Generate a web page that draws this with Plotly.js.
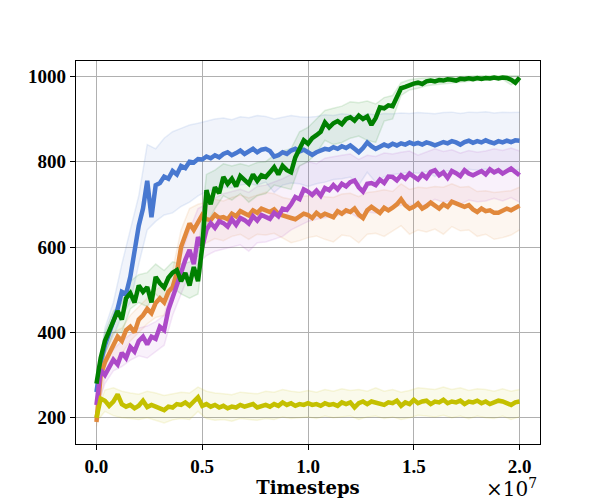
<!DOCTYPE html>
<html>
<head>
<meta charset="utf-8">
<script src="https://cdn.plot.ly/plotly-3.0.1.min.js"></script>
<style>html,body{margin:0;padding:0;background:#fff}#chart{width:600px;height:500px}</style>
</head>
<body>
<div id="chart"></div>
<script>
// Timesteps in units of 1e7
const LINE_X = [0.00,0.02,0.04,0.06,0.08,0.10,0.12,0.14,0.16,0.18,0.20,0.22,0.24,0.26,0.28,0.30,0.32,0.34,0.36,0.38,0.40,0.42,0.44,0.46,0.48,0.50,0.52,0.54,0.56,0.58,0.60,0.62,0.64,0.66,0.68,0.70,0.72,0.74,0.76,0.78,0.80,0.82,0.84,0.86,0.88,0.90,0.92,0.94,0.96,0.98,1.00,1.02,1.04,1.06,1.08,1.10,1.12,1.14,1.16,1.18,1.20,1.22,1.24,1.26,1.28,1.30,1.32,1.34,1.36,1.38,1.40,1.42,1.44,1.46,1.48,1.50,1.52,1.54,1.56,1.58,1.60,1.62,1.64,1.66,1.68,1.70,1.72,1.74,1.76,1.78,1.80,1.82,1.84,1.86,1.88,1.90,1.92,1.94,1.96,1.98,2.00];
const BAND_X = [0.00,0.04,0.08,0.12,0.16,0.20,0.24,0.28,0.32,0.36,0.40,0.44,0.48,0.52,0.56,0.60,0.64,0.68,0.72,0.76,0.80,0.84,0.88,0.92,0.96,1.00,1.04,1.08,1.12,1.16,1.20,1.24,1.28,1.32,1.36,1.40,1.44,1.48,1.52,1.56,1.60,1.64,1.68,1.72,1.76,1.80,1.84,1.88,1.92,1.96,2.00];

const blueMean = [260,330,370,400,425,455,495,490,530,590,650,690,755,670,745,750,765,760,778,770,790,785,800,798,806,805,812,808,815,810,818,822,815,820,826,818,825,830,822,828,830,825,812,815,822,818,826,830,824,828,822,816,822,826,830,828,834,830,836,832,838,830,822,832,845,836,830,835,840,836,842,838,843,840,845,841,844,840,845,842,838,842,846,843,848,845,840,846,849,844,848,845,850,846,843,848,845,849,846,850,849];
const blueUpper = [280,410,470,560,640,720,840,830,855,870,878,886,890,895,900,902,898,905,903,908,906,900,904,908,905,904,906,910,908,912,910,905,912,910,913,912,914,913,915,913,912,915,916,913,916,915,917,914,916,915,916];
const blueLower = [240,350,390,440,470,560,640,660,675,680,695,705,720,730,735,740,738,745,748,745,752,728,745,750,748,742,748,752,758,760,764,745,775,752,765,770,772,775,773,777,765,777,780,768,782,780,783,772,775,777,782];

const orangeMean = [190,300,330,350,370,390,380,405,413,400,430,440,455,445,469,480,470,495,506,540,600,630,655,640,660,675,665,663,676,668,670,665,678,672,684,680,674,686,680,690,687,682,688,678,674,670,668,665,672,678,675,668,680,672,678,675,670,684,678,686,682,690,676,668,686,694,688,680,692,686,692,700,712,698,690,694,702,690,696,704,697,690,700,694,706,703,698,694,698,688,682,690,684,686,680,680,684,690,686,692,697];
const orangeUpper = [200,350,400,410,440,460,480,500,510,545,640,690,700,705,712,708,716,722,715,722,728,725,716,712,718,720,722,718,716,724,726,718,728,730,734,730,748,735,740,738,742,740,748,740,742,730,732,728,730,732,740];
const orangeLower = [180,300,330,350,380,400,420,435,440,470,540,590,600,610,620,615,625,630,618,630,628,632,620,610,615,622,626,618,612,628,625,610,630,632,625,638,650,630,640,635,642,630,648,638,640,625,630,618,622,628,640];

const greenMean = [280,340,380,405,425,450,430,480,492,470,510,495,506,470,530,515,505,528,540,546,520,539,510,553,520,600,733,700,740,726,764,748,760,742,766,757,748,770,755,768,764,775,787,770,790,780,775,810,830,850,842,855,862,870,892,880,890,895,888,900,904,896,908,900,906,886,902,927,925,932,930,950,972,975,980,983,985,982,988,990,988,991,990,993,992,990,994,993,995,993,996,994,996,995,997,995,997,996,992,985,997];
const greenUpper = [300,400,450,470,520,535,540,560,545,565,560,565,580,770,780,795,790,795,790,798,800,815,825,830,870,880,900,920,925,930,940,938,942,935,950,955,985,992,995,997,998,998,999,1000,1000,1001,1001,1001,1001,1000,1001];
const greenLower = [260,350,400,400,455,470,460,490,470,505,490,480,490,650,690,720,710,725,705,720,725,745,740,735,790,800,820,850,840,845,855,860,850,845,895,900,955,968,972,978,980,982,985,987,989,990,991,992,993,980,993];

const purpleMean = [230,312,300,320,336,325,352,340,366,355,380,390,372,390,385,413,405,453,480,505,539,570,593,560,623,600,640,656,645,660,656,648,665,652,668,663,655,672,662,675,670,666,680,672,690,687,700,717,712,735,730,722,732,720,738,733,745,735,748,742,752,756,740,730,748,750,745,758,750,765,764,756,768,760,772,764,758,770,762,776,780,768,775,762,778,773,766,780,772,768,773,778,770,782,775,780,772,778,784,776,768];
const purpleUpper = [240,330,360,380,395,410,415,425,440,510,580,640,690,700,715,725,730,735,728,742,745,752,760,770,790,800,795,808,812,815,818,805,815,812,820,818,822,825,815,822,830,824,828,820,826,822,825,830,826,832,825];
const purpleLower = [220,280,310,320,335,345,340,355,370,440,490,540,560,580,590,595,600,605,590,610,612,618,625,640,650,660,665,668,672,676,680,668,682,680,685,695,698,700,694,700,712,705,710,700,710,706,708,714,708,716,705];

const yellowMean = [200,245,240,228,238,255,232,226,230,222,228,240,225,230,226,222,218,226,224,232,230,236,228,238,248,228,232,226,230,224,228,222,226,224,230,226,228,232,224,228,230,226,232,228,236,230,234,228,232,230,234,230,232,228,234,230,232,228,236,232,236,224,234,238,232,238,236,232,230,236,234,240,228,236,232,242,234,238,240,232,238,236,242,234,238,236,240,232,238,236,240,234,238,232,236,240,238,234,230,236,238];
const yellowUpper = [210,265,270,262,258,255,262,258,252,256,260,258,272,262,258,256,254,260,258,256,262,260,266,262,260,264,260,266,262,268,264,266,262,270,262,266,260,264,270,268,266,272,266,270,264,268,266,262,268,262,266];
const yellowLower = [190,215,205,200,198,196,200,194,188,195,198,196,215,198,194,196,192,198,196,194,198,196,202,198,200,202,198,204,200,202,204,196,202,204,198,202,196,200,206,204,202,206,200,204,198,204,200,198,204,196,202];

const X_TICKS = [0, 0.5, 1.0, 1.5, 2.0];
const X_TICK_TEXT = ['0.0', '0.5', '1.0', '1.5', '2.0'];
const Y_TICKS = [200, 400, 600, 800, 1000];

const series = [
  {mean: blueMean, up: blueUpper, lo: blueLower, rgb: '72,120,208'},
  {mean: orangeMean, up: orangeUpper, lo: orangeLower, rgb: '225,136,60'},
  {mean: purpleMean, up: purpleUpper, lo: purpleLower, rgb: '173,74,200'},
  {mean: greenMean, up: greenUpper, lo: greenLower, rgb: '0,128,0'},
  {mean: yellowMean, up: yellowUpper, lo: yellowLower, rgb: '196,192,0'}
];

const traces = [];
series.forEach(s => {
  traces.push({x: BAND_X, y: s.up, type: 'scatter', mode: 'lines', hoverinfo: 'skip', showlegend: false,
    line: {color: 'rgba(' + s.rgb + ',0.12)', width: 1.5}});
  traces.push({x: BAND_X, y: s.lo, type: 'scatter', mode: 'lines', hoverinfo: 'skip', showlegend: false,
    fill: 'tonexty', fillcolor: 'rgba(' + s.rgb + ',0.08)',
    line: {color: 'rgba(' + s.rgb + ',0.12)', width: 1.5}});
});
series.forEach(s => {
  traces.push({x: LINE_X, y: s.mean, type: 'scatter', mode: 'lines', showlegend: false,
    line: {color: 'rgb(' + s.rgb + ')', width: 4.5}});
});

const tickFamily = 'Liberation Serif, DejaVu Serif, serif';
const titleFamily = 'DejaVu Serif, Liberation Serif, serif';

const layout = {
  width: 600, height: 500,
  margin: {l: 75.5, r: 59.5, t: 60.7, b: 55.7},
  paper_bgcolor: '#fff', plot_bgcolor: '#fff',
  font: {family: tickFamily, size: 19, color: '#000'},
  showlegend: false,
  xaxis: {
    range: [-0.0967, 2.0967], tickvals: X_TICKS, ticktext: X_TICK_TEXT,
    showgrid: true, gridcolor: '#b0b0b0', gridwidth: 1, zeroline: false,
    showline: true, linecolor: '#000', linewidth: 1.2, mirror: true,
    ticks: 'outside', ticklen: 5, tickcolor: '#000', tickwidth: 1,
    tickfont: {family: tickFamily, size: 19, color: '#000', weight: 'bold'},
    title: {text: '<b>Timesteps</b>', standoff: 3, font: {family: titleFamily, size: 18, color: '#000'}}
  },
  yaxis: {
    range: [138.5, 1035.8], tickvals: Y_TICKS,
    showgrid: true, gridcolor: '#b0b0b0', gridwidth: 1, zeroline: false,
    showline: true, linecolor: '#000', linewidth: 1.2, mirror: true,
    ticks: 'outside', ticklen: 5, tickcolor: '#000', tickwidth: 1,
    tickfont: {family: tickFamily, size: 19, color: '#000', weight: 'bold'}
  },
  annotations: [{
    xref: 'paper', yref: 'paper', x: 0.997, y: -0.115, xanchor: 'right', yanchor: 'middle',
    text: '×10<sup>7</sup>', showarrow: false, font: {family: titleFamily, size: 20, color: '#000'}
  }]
};

Plotly.newPlot('chart', traces, layout, {staticPlot: true, displayModeBar: false});
</script>
</body>
</html>
